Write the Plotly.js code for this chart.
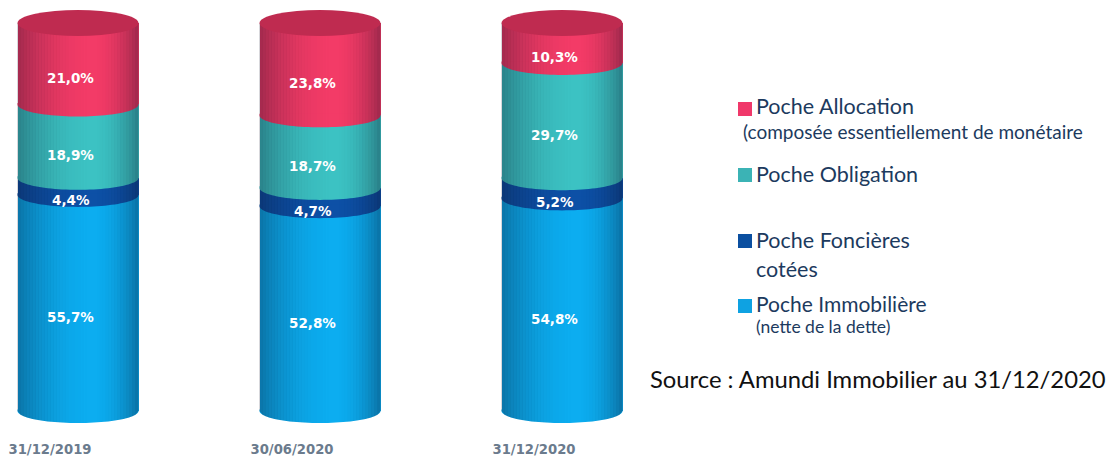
<!DOCTYPE html>
<html><head><meta charset="utf-8">
<script src="https://cdn.plot.ly/plotly-3.0.1.min.js"></script>
<style>html,body{margin:0;padding:0;background:#fff}#chart{width:1116px;height:459px}</style>
</head><body><div id="chart"></div>
<script>
// ---------- data ----------
const categories = ['31/12/2019', '30/06/2020', '31/12/2020'];
const seriesNames = ['Poche Immobilière', 'Poche Foncières cotées', 'Poche Obligation', 'Poche Allocation'];
const immobiliere = [55.7, 52.8, 54.8];
const foncieres = [4.4, 4.7, 5.2];
const obligation = [18.9, 18.7, 29.7];
const allocation = [21.0, 23.8, 10.3];
const legendTitles = ['Poche Allocation', 'Poche Obligation', 'Poche Foncières', 'Poche Immobilière'];
const legendNotes = ['(composée essentiellement de monétaire', '', 'cotées', '(nette de la dette)'];
const sourceText = 'Source : Amundi Immobilier au 31/12/2020';

// ---------- styling ----------
const seriesValues = [immobiliere, foncieres, obligation, allocation];
const colors = ['#0cadf0', '#0d50a6', '#3cc2c3', '#f33b67'];
const legendColors = ['#f0386a', '#3bb3b5', '#0b4fa0', '#0ea2e2'];
const topFace = '#bf2b50';
const W = 1116, H = 459, MB = 30;
const PH = H - MB;
const pxPerX = 242, x0px = 78;
const yZeroPx = 411, pxPerY = 3.88;
const xmin = -x0px / pxPerX, xmax = xmin + W / pxPerX;
const ymax = 100 + (yZeroPx - 100 * pxPerY) / pxPerY;
const yminv = -(PH - yZeroPx) / pxPerY;
const BW = 0.5, RX = BW / 2, RY = 12 / pxPerY, RYTOP = 13 / pxPerY;
const idx = categories.map((c, i) => i);
const fmt = v => v.toFixed(1).replace('.', ',') + '%';

const traces = seriesValues.map((vals, s) => ({
  type: 'bar', x: idx, y: vals, name: seriesNames[s], width: BW,
  marker: {color: colors[s], line: {width: 0}}, hoverinfo: 'skip', showlegend: false
}));

const shapes = [];
const annotations = [];
function lowerHalf(cx, cy, n) {
  const pts = [];
  for (let k = 0; k <= n; k++) {
    const th = Math.PI - Math.PI * k / n;
    pts.push([cx + RX * Math.cos(th), cy - RY * Math.sin(th)]);
  }
  return pts;
}
function pathFrom(pts) {
  return pts.map((p, k) => (k ? 'L' : 'M') + p[0].toFixed(5) + ',' + p[1].toFixed(4)).join(' ');
}
idx.forEach(i => {
  let cum = 0;
  const bounds = [];
  seriesValues.forEach((vals, s) => { bounds.push({y: cum, color: colors[s]}); cum += vals[i]; });
  // each segment's colour continues below its flat lower edge as a half ellipse (front face)
  bounds.forEach(b => {
    const pts = lowerHalf(i, b.y, 48);
    const up = b.y + 0.4;
    shapes.push({type: 'path', xref: 'x', yref: 'y', layer: 'above', line: {width: 0}, fillcolor: b.color,
      path: pathFrom(pts) + ` L${(i + RX).toFixed(5)},${up} L${(i - RX).toFixed(5)},${up} Z`});
  });
  // cylinder shading strips
  const N = 40;
  for (let j = 0; j < N; j++) {
    const t0 = j / N, t1 = (j + 1) / N, tm = (t0 + t1) / 2;
    const xl = i - RX + BW * t0, xr = i - RX + BW * t1 + 0.0006;
    const yb = x => -RY * Math.sqrt(Math.max(0, 1 - ((Math.min(Math.max(x, i - RX), i + RX) - i) / RX) ** 2));
    let a;
    if (tm < 0.62) a = 0.34 * Math.pow((0.62 - tm) / 0.62, 2.0);
    else a = 0.36 * Math.pow((tm - 0.62) / 0.38, 2.0);
    shapes.push({type: 'path', xref: 'x', yref: 'y', layer: 'above', line: {width: 0},
      fillcolor: `rgba(10,10,30,${a.toFixed(3)})`,
      path: `M${xl},${cum} L${xr},${cum} L${xr},${yb(xr)} L${xl},${yb(xl)} Z`});
  }
  // top face
  shapes.push({type: 'circle', xref: 'x', yref: 'y', layer: 'above', line: {width: 0}, fillcolor: topFace,
    x0: i - RX, x1: i + RX, y0: cum - RYTOP, y1: cum + RYTOP});
  // value labels
  let c2 = 0;
  seriesValues.forEach((vals, s) => {
    const v = vals[i];
    annotations.push({xref: 'x', yref: 'y', x: i - 0.03, y: c2 + v / 2 - RY - 0.5, text: fmt(v), showarrow: false,
      font: {family: 'DejaVu Sans', size: 13.5, color: '#ffffff', weight: 'bold'}, xanchor: 'center', yanchor: 'middle'});
    c2 += v;
  });
});

// legend (custom, paper coordinates)
const px2x = p => p / W, py2y = p => (PH - p) / PH;
const legendKeyY = [109, 175, 241, 306];
const legendTitleY = [106.5, 174, 240, 303];
const legendTitleSize = [21.5, 21.5, 21.5, 21];
const legendNoteX = [744, 0, 757, 757];
const legendNoteY = [131, 0, 269, 326.5];
const legendNoteSize = [19, 0, 21.5, 17.5];
legendTitles.forEach((t, k) => {
  shapes.push({type: 'rect', xref: 'paper', yref: 'paper', line: {width: 0}, fillcolor: legendColors[k],
    x0: px2x(738), x1: px2x(752), y0: py2y(legendKeyY[k] + 7), y1: py2y(legendKeyY[k] - 7)});
  annotations.push({xref: 'paper', yref: 'paper', x: px2x(755), y: py2y(legendTitleY[k]), text: t, showarrow: false,
    xanchor: 'left', yanchor: 'middle', borderpad: 0, font: {family: 'Lato', size: legendTitleSize[k], color: '#1c3a5e'}});
  if (legendNotes[k]) {
    annotations.push({xref: 'paper', yref: 'paper', x: px2x(legendNoteX[k] - 2), y: py2y(legendNoteY[k]), text: legendNotes[k], showarrow: false,
      xanchor: 'left', yanchor: 'middle', borderpad: 0, font: {family: 'Lato', size: legendNoteSize[k], color: '#1c3a5e'}});
  }
});
annotations.push({xref: 'paper', yref: 'paper', x: px2x(648), y: py2y(379), text: sourceText, showarrow: false,
  xanchor: 'left', yanchor: 'middle', font: {family: 'Lato', size: 23.8, color: '#111111'}});

const layout = {
  width: W, height: H, margin: {l: 0, r: 0, t: 0, b: MB}, paper_bgcolor: '#ffffff', plot_bgcolor: '#ffffff',
  barmode: 'stack', showlegend: false, hovermode: false,
  xaxis: {range: [xmin, xmax], tickvals: idx, ticktext: categories, ticks: '', showgrid: false, zeroline: false,
    showline: false, ticklabelshift: -28, ticklabelstandoff: 11,
    tickfont: {family: 'DejaVu Sans', size: 13.2, color: '#6b7b8d', weight: 'bold'}},
  yaxis: {range: [yminv, ymax], visible: false, showgrid: false, zeroline: false},
  shapes: shapes, annotations: annotations
};
Plotly.newPlot('chart', traces, layout, {displayModeBar: false, staticPlot: true});
</script>
</body></html>
